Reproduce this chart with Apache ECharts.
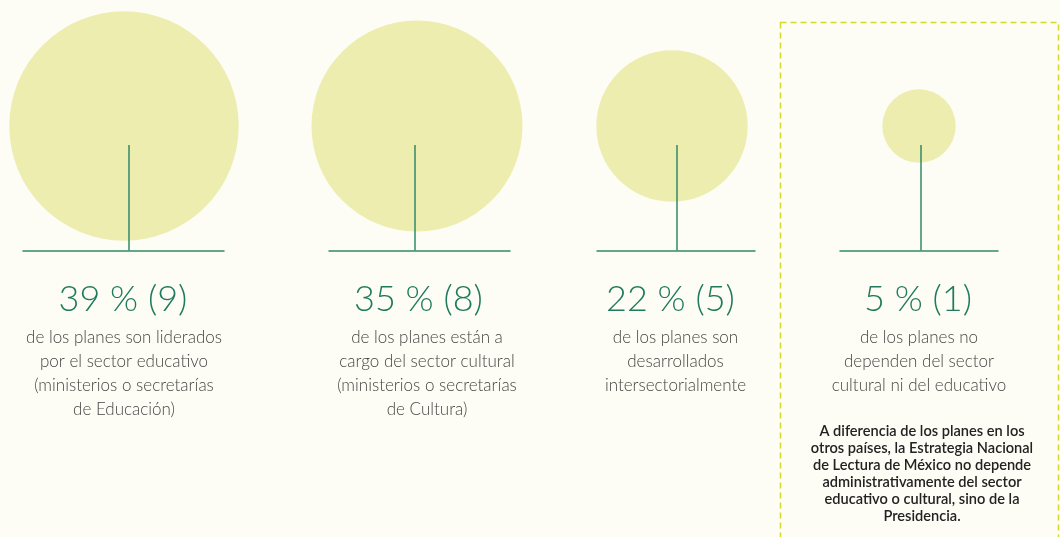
<!DOCTYPE html>
<html><head><meta charset="utf-8">
<script src="https://cdn.jsdelivr.net/npm/echarts@6/dist/echarts.min.js"></script>
<style>html,body{margin:0;padding:0;background:#fdfdf5;} #c{width:1060px;height:537px;}</style>
</head><body><div id="c"></div>
<script>
// ---- data ----
const categories = ['Educación', 'Cultura', 'Intersectorial', 'Presidencia'];
const percentages = [39, 35, 22, 5];
const planCounts = [9, 8, 5, 1];
const descriptions = [
  ['de los planes son liderados', 'por el sector educativo', '(ministerios o secretarías', 'de Educación)'],
  ['de los planes están a', 'cargo del sector cultural', '(ministerios o secretarías', 'de Cultura)'],
  ['de los planes son', 'desarrollados', 'intersectorialmente'],
  ['de los planes no', 'dependen del sector', 'cultural ni del educativo']
];
const noteLines = [
  'A diferencia de los planes en los',
  'otros países, la Estrategia Nacional',
  'de Lectura de México no depende',
  'administrativamente del sector',
  'educativo o cultural, sino de la',
  'Presidencia.'
];

// ---- layout (pixels) ----
const columns = [
  { left: 23, right: 224, num: 123, desc: 124, circleDx: 0.5, stemDx: 5.5 },
  { left: 329, right: 510, num: 418.5, desc: 427, circleDx: -2.5, stemDx: -4.5 },
  { left: 597, right: 755, num: 670.5, desc: 675.5, circleDx: -4, stemDx: 1 },
  { left: 840, right: 998, num: 918, desc: 919, circleDx: 0, stemDx: 2 }
];
const GRID_H = 250.5;      // baseline y
const Y_MAX = 250.5;       // y value == pixels above baseline
const CIRCLE_LEVEL = 124.5; // circle centre height above baseline
const STEM_HEIGHT = 105.5;  // stem height above baseline

const GREEN = '#2f8a6a';
const NUM_COLOR = '#1f7a5e';
const TEXT_COLOR = '#454545';
const CIRCLE_COLOR = '#eeedb0';

function diameter(p) { return 50.4 + 4.59 * p; }

const grids = [], xAxes = [], yAxes = [], series = [], graphics = [];
columns.forEach((c, i) => {
  grids.push({ left: c.left, top: 0, width: c.right - c.left, height: GRID_H });
  xAxes.push({
    type: 'category', gridIndex: i, data: [categories[i]],
    axisLine: { show: true, lineStyle: { color: GREEN, width: 1.5 } },
    axisTick: { show: false }, axisLabel: { show: false }, splitLine: { show: false }
  });
  yAxes.push({ type: 'value', gridIndex: i, min: 0, max: Y_MAX, show: false });
  series.push({
    type: 'scatter', xAxisIndex: i, yAxisIndex: i, clip: false, silent: true,
    data: [CIRCLE_LEVEL],
    symbolSize: () => diameter(percentages[i]),
    symbolOffset: [c.circleDx, 0],
    itemStyle: { color: CIRCLE_COLOR, opacity: 1 }, z: 1
  });
  series.push({
    type: 'pictorialBar', xAxisIndex: i, yAxisIndex: i, silent: true,
    data: [STEM_HEIGHT], symbol: 'rect', symbolSize: [1.5, '100%'],
    symbolOffset: [c.stemDx, 0], symbolPosition: 'start',
    itemStyle: { color: GREEN }, z: 3
  });
  graphics.push({
    type: 'text', x: c.num, y: 299,
    style: {
      text: percentages[i] + ' % (' + planCounts[i] + ')',
      fill: NUM_COLOR, font: '300 36px Lato, "Noto Sans", sans-serif',
      textAlign: 'center', textVerticalAlign: 'middle'
    }
  });
  graphics.push({
    type: 'text', x: c.desc, y: 326,
    style: {
      text: descriptions[i].join('\n'),
      fill: TEXT_COLOR, font: '300 17px Lato, "Noto Sans", sans-serif',
      lineHeight: 24, textAlign: 'center', textVerticalAlign: 'top'
    }
  });
});

graphics.push({
  type: 'rect', z: 0,
  shape: { x: 780.5, y: 22.5, width: 278, height: 600 },
  style: { fill: 'none', stroke: '#d6d82c', lineWidth: 1.5, lineDash: [6, 4] }
});
graphics.push({
  type: 'text', x: 922, y: 423,
  style: {
    text: noteLines.join('\n'),
    fill: '#222222', font: '600 14.6px Lato, "Noto Sans", sans-serif',
    lineHeight: 17, textAlign: 'center', textVerticalAlign: 'top'
  }
});

const chart = echarts.init(document.getElementById('c'), null, { renderer: 'canvas' });
chart.setOption({
  backgroundColor: '#fdfdf5',
  animation: false,
  grid: grids, xAxis: xAxes, yAxis: yAxes, series: series,
  graphic: graphics
});
</script>
</body></html>
